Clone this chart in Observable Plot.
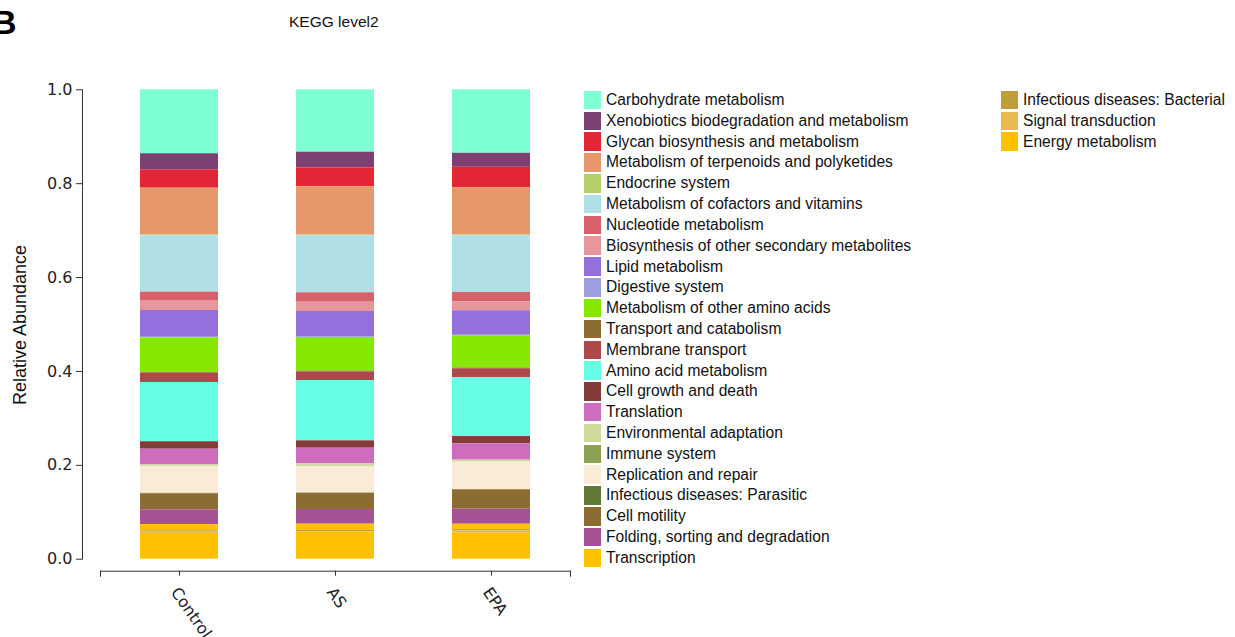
<!DOCTYPE html>
<html><head><meta charset="utf-8">
<script src="https://cdn.jsdelivr.net/npm/d3@7"></script>
<script src="https://cdn.jsdelivr.net/npm/@observablehq/plot@0.6"></script>
<style>
html,body{margin:0;padding:0;background:#fff;}
#wrap{position:relative;width:1235px;height:637px;overflow:hidden;font-family:"Liberation Sans",Arial,sans-serif;color:#111;}
#chart{position:absolute;left:0;top:0;}
#panel{position:absolute;left:-8px;top:5px;font:bold 34px/1 "Liberation Sans",Arial,sans-serif;color:#000;}
#title{position:absolute;left:289px;top:14px;font-size:15.5px;line-height:1;color:#111;}
#ylab{position:absolute;left:20px;top:325px;font-size:18px;line-height:1;white-space:nowrap;transform:translate(-50%,-50%) rotate(-90deg);color:#111;}
.legend{position:absolute;}
.item{display:flex;align-items:center;height:20.82px;font-size:15.6px;white-space:nowrap;color:#111;}
.sw{width:17px;height:18.5px;margin-right:5px;flex:none;}
</style></head>
<body>
<div id="wrap">
  <div id="panel">B</div>
  <div id="title">KEGG level2</div>
  <div id="ylab">Relative Abundance</div>
  <div id="chart"></div>
  <div class="legend" id="leg1" style="left:584px;top:89.6px"></div>
  <div class="legend" id="leg2" style="left:1001px;top:89.6px"></div>
</div>
<script>
// Groups (x categories)
const groups = ["Control", "AS", "EPA"];

// KEGG level2 categories, in legend order (top of stack first)
const categories = [
  "Carbohydrate metabolism",
  "Xenobiotics biodegradation and metabolism",
  "Glycan biosynthesis and metabolism",
  "Metabolism of terpenoids and polyketides",
  "Endocrine system",
  "Metabolism of cofactors and vitamins",
  "Nucleotide metabolism",
  "Biosynthesis of other secondary metabolites",
  "Lipid metabolism",
  "Digestive system",
  "Metabolism of other amino acids",
  "Transport and catabolism",
  "Membrane transport",
  "Amino acid metabolism",
  "Cell growth and death",
  "Translation",
  "Environmental adaptation",
  "Immune system",
  "Replication and repair",
  "Infectious diseases: Parasitic",
  "Cell motility",
  "Folding, sorting and degradation",
  "Transcription",
  "Infectious diseases: Bacterial",
  "Signal transduction",
  "Energy metabolism"
];

const colors = [
  "#7FFFD4", "#7B4173", "#E32636", "#E6986A", "#B5CF6B", "#B0E0E6",
  "#D6616B", "#E7969C", "#9370DB", "#9C9EDE", "#86E800", "#8C6D31",
  "#AD494A", "#66FFE5", "#843C39", "#CE6DBD", "#CEDB9C", "#8CA252",
  "#FAEBD7", "#637939", "#8C6D31", "#A55194", "#FFC000", "#BD9E39",
  "#E7BA52", "#FFC000"
];

// Relative abundance per group, same order as categories
const control = [0.1363, 0.0341, 0.0392, 0.0999, 0.0015, 0.1202, 0.0192, 0.0198, 0.0571, 0.0010,
  0.0739, 0.0015, 0.0199, 0.1263, 0.0158, 0.0326, 0.0028, 0.0008, 0.0580, 0.0008,
  0.0341, 0.0319, 0.0128, 0.0028, 0.0030, 0.0548];
const as = [0.1329, 0.0333, 0.0405, 0.1028, 0.0015, 0.1215, 0.0200, 0.0198, 0.0544, 0.0010,
  0.0716, 0.0015, 0.0191, 0.1279, 0.0157, 0.0333, 0.0040, 0.0010, 0.0573, 0.0008,
  0.0341, 0.0313, 0.0135, 0.0020, 0.0016, 0.0575];
const epa = [0.1351, 0.0298, 0.0432, 0.1008, 0.0015, 0.1208, 0.0198, 0.0192, 0.0522, 0.0010,
  0.0688, 0.0015, 0.0192, 0.1251, 0.0155, 0.0347, 0.0029, 0.0008, 0.0588, 0.0008,
  0.0411, 0.0320, 0.0115, 0.0030, 0.0045, 0.0554];

const yTicks = [0, 0.2, 0.4, 0.6, 0.8, 1.0];

const series = {Control: control, AS: as, EPA: epa};
const rows = [];
for (const g of groups) categories.forEach((c, i) => rows.push({group: g, category: c, value: series[g][i]}));

const stackOrder = categories.slice().reverse();
const frameH = 637 - 89.3 - 78.3;

const chart = Plot.plot({
  width: 1235,
  height: 637,
  marginTop: 89.3,
  marginBottom: 78.3,
  marginLeft: 100,
  marginRight: 665,
  style: {background: "transparent", fontFamily: "DejaVu Sans, Verdana, sans-serif"},
  x: {domain: groups, paddingInner: 0.5, paddingOuter: 0.25, label: null},
  y: {domain: [0, 1], label: null},
  color: {type: "ordinal", domain: categories, range: colors},
  marks: [
    Plot.barY(rows, {x: "group", y: "value", fill: "category", order: stackOrder, offset: "normalize"}),
    Plot.axisY({ticks: yTicks, tickFormat: d => d.toFixed(1), tickSize: 6, tickPadding: 4, dx: -18,
      fontSize: 16, fill: "#222", stroke: "#333", label: null}),
    Plot.frame({anchor: "left", dx: -18, stroke: "#333"}),
    Plot.frame({anchor: "bottom", dy: 12, stroke: "#333"}),
    Plot.frame({anchor: "left", insetTop: frameH - 5, dy: 17, stroke: "#333"}),
    Plot.frame({anchor: "right", insetTop: frameH - 5, dy: 17, stroke: "#333"}),
    Plot.axisX({tickSize: 5, dy: 12, tickFormat: () => "", label: null, stroke: "#333"}),
    Plot.axisX({tickSize: 0, tickPadding: 0, dy: 30, dx: -5, tickRotate: 55, fontSize: 16, fill: "#222", label: null})
  ]
});
document.getElementById("chart").appendChild(chart);

// Legend
function addItems(el, names) {
  for (const n of names) {
    const i = categories.indexOf(n);
    const it = document.createElement("div");
    it.className = "item";
    const sw = document.createElement("div");
    sw.className = "sw";
    sw.style.background = colors[i];
    const tx = document.createElement("span");
    tx.textContent = n;
    it.appendChild(sw); it.appendChild(tx);
    el.appendChild(it);
  }
}
addItems(document.getElementById("leg1"), categories.slice(0, 23));
addItems(document.getElementById("leg2"), categories.slice(23));
</script>
</body></html>
